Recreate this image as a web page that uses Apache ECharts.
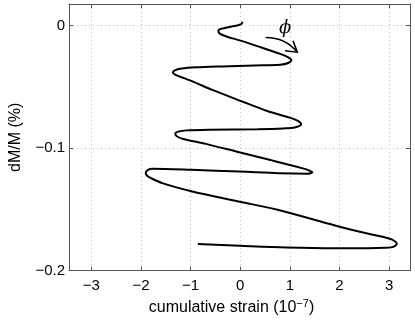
<!DOCTYPE html>
<html>
<head>
<meta charset="utf-8">
<script src="https://cdn.jsdelivr.net/npm/echarts@6/dist/echarts.min.js"></script>
<style>
html,body{margin:0;padding:0;background:#fff;}
#c{width:415px;height:321px;}
</style>
</head>
<body>
<div id="c"></div>
<script>
// cumulative strain (1e-7)
const strain = [0.045,0.020,-0.088,-0.244,-0.371,-0.439,-0.434,-0.381,-0.264,0.023,0.414,0.805,0.967,1.031,0.967,0.805,0.283,-0.367,-0.889,-1.182,-1.328,-1.357,-1.313,-1.148,-0.928,-0.563,0.023,0.543,1.000,1.162,1.227,1.098,0.869,0.348,-0.629,-1.084,-1.246,-1.309,-1.279,-1.148,-0.693,-0.043,0.609,1.260,1.396,1.455,1.357,0.771,-0.010,-0.986,-1.768,-1.865,-1.905,-1.875,-1.816,-1.572,-0.986,-0.010,0.771,1.910,2.563,2.887,3.051,3.154,3.096,2.920,2.568,1.904,0.928,-0.010,-0.855];
// dM/M (%)
const dMM = [0.0030,0.0010,-0.0002,-0.0014,-0.0026,-0.0040,-0.0058,-0.0074,-0.0092,-0.0126,-0.0178,-0.0232,-0.0260,-0.0282,-0.0306,-0.0320,-0.0326,-0.0334,-0.0342,-0.0352,-0.0368,-0.0384,-0.0402,-0.0428,-0.0462,-0.0526,-0.0618,-0.0698,-0.0752,-0.0778,-0.0806,-0.0832,-0.0840,-0.0846,-0.0850,-0.0856,-0.0866,-0.0882,-0.0904,-0.0926,-0.0966,-0.1032,-0.1098,-0.1166,-0.1184,-0.1198,-0.1210,-0.1206,-0.1192,-0.1178,-0.1170,-0.1180,-0.1205,-0.1226,-0.1242,-0.1286,-0.1352,-0.1438,-0.1506,-0.1632,-0.1698,-0.1726,-0.1746,-0.1780,-0.1804,-0.1814,-0.1818,-0.1818,-0.1812,-0.1798,-0.1784];
const xTicks = [-3,-2,-1,0,1,2,3];
const yTicks = [0,-0.1,-0.2];
// annotation: phi label and arrow (data coords)
const phiLabel = [0.902,-0.0026];
const arrowStart = [0.512,-0.0098];
const arrowCtrl = [0.908,-0.00976];
const arrowTip = [1.148,-0.0218];
const arrowBarb1 = [0.903,-0.0206];
const arrowBarb2 = [1.064,-0.01256];

const FONT = '"Liberation Sans", Arial, Helvetica, sans-serif';
const AX = '#555';
const fmt = v => {
  const m = xTicks.concat(yTicks).some(t => Math.abs(t - v) < 1e-9);
  if (!m) return '';
  const r = Math.round(v*10)/10;
  return (r < 0 ? '\u2212' : '') + String(Math.abs(r));
};
const pts = strain.map((x,i)=>[x,dMM[i]]);
const chart = echarts.init(document.getElementById('c'), null, {renderer:'canvas'});
const baseAxis = {
  type:'value',
  axisLine:{show:true,onZero:false,lineStyle:{color:AX,width:1}},
  axisTick:{show:true,inside:true,length:4,lineStyle:{color:AX}},
  splitLine:{show:false},
  axisLabel:{show:false}
};
chart.setOption({
  animation:false,
  grid:{left:59,right:5,top:4,bottom:44,containLabel:false},
  xAxis:[
    Object.assign({}, baseAxis, {
      min:-3.45,max:3.42,splitNumber:6,position:'bottom',
      axisLabel:{show:true,formatter:fmt,color:'#000',fontSize:15,fontFamily:FONT,margin:8,showMinLabel:false,showMaxLabel:false},
      splitLine:{show:true,lineStyle:{color:'#c4c4c4',type:[1,3],width:1}},
      name:'{a|cumulative strain (10}{s|\u22127}{a|)}',
      nameLocation:'middle',nameGap:18,
      nameTextStyle:{padding:[0,16,0,0],rich:{a:{fontSize:16,fontFamily:FONT,color:'#000',lineHeight:19},s:{fontSize:11,fontFamily:FONT,color:'#000',verticalAlign:'top',lineHeight:13}}}
    }),
    Object.assign({}, baseAxis, {min:-3.45,max:3.42,splitNumber:6,position:'top'})
  ],
  yAxis:[
    Object.assign({}, baseAxis, {
      min:-0.2,max:0.0175,interval:0.1,position:'left',
      axisLabel:{show:true,formatter:fmt,color:'#000',fontSize:15,fontFamily:FONT,margin:4,showMaxLabel:false},
      splitLine:{show:true,lineStyle:{color:'#c4c4c4',type:[1,3],width:1}},
      name:'dM/M (%)',nameLocation:'middle',nameGap:45,
      nameTextStyle:{fontSize:16,fontFamily:FONT,color:'#000'}
    }),
    Object.assign({}, baseAxis, {min:-0.2,max:0.0175,interval:0.1,position:'right'})
  ],
  series:[{
    type:'line',data:pts,showSymbol:false,smooth:0.3,
    lineStyle:{color:'#000',width:2},z:5
  }]
});
function draw(){
  const p = a => chart.convertToPixel({gridIndex:0}, a);
  const s = p(arrowStart), c = p(arrowCtrl), t = p(arrowTip), b1 = p(arrowBarb1), b2 = p(arrowBarb2), ph = p(phiLabel);
  chart.setOption({graphic:[
    {type:'bezierCurve',shape:{x1:s[0],y1:s[1],x2:t[0],y2:t[1],cpx1:c[0],cpy1:c[1]},style:{stroke:'#000',lineWidth:1.6,fill:null},z:10},
    {type:'polyline',shape:{points:[b1,t,b2]},style:{stroke:'#000',lineWidth:1.6,fill:null},z:10},
    {type:'text',x:ph[0],y:ph[1],style:{text:'\u03D5',font:'italic 18px "DejaVu Serif", "Liberation Serif", serif',fill:'#000',align:'center',verticalAlign:'middle'},z:10}
  ]});
}
draw();
</script>
</body>
</html>
